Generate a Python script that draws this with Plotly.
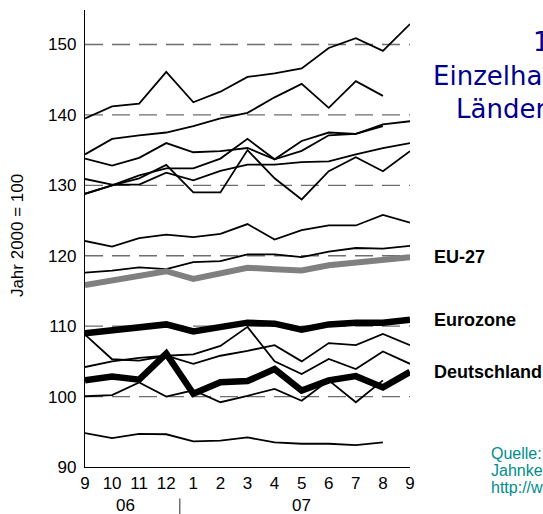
import plotly.graph_objects as go

months = ["9", "10", "11", "12", "1", "2", "3", "4", "5", "6", "7", "8", "9"]
years = ["06", "07"]
y_ticks = [90, 100, 110, 120, 130, 140, 150]

line_a = [139.5, 141.2, 141.6, 146.1, 141.8, 143.3, 145.4, 145.9, 146.6, 149.5, 150.9, 149.1, 152.9]
line_b = [134.4, 136.6, 137.1, 137.5, 138.4, 139.5, 140.3, 142.5, 144.4, 141.0, 144.8, 142.7, None]
line_c = [133.8, 132.8, 133.9, 136.0, 134.7, 134.85, 135.3, 133.7, 134.9, 137.1, 137.3, 138.4, None]
line_d = [128.8, 130.0, 131.4, 132.4, 132.4, 133.8, 136.6, 133.7, 136.3, 137.5, 137.3, 138.65, 139.1]
line_e = [128.8, 130.0, 131.0, 132.9, 129.0, 129.0, 135.0, 131.0, 128.0, 132.0, 134.0, 132.0, 134.85]
line_f = [130.9, 130.1, 130.1, 131.8, 130.7, 132.05, 132.95, 132.95, 133.3, 133.4, 134.4, 135.3, 136.0]
line_g = [122.1, 121.3, 122.5, 123.0, 122.65, 123.1, 124.5, 122.3, 123.65, 124.3, 124.3, 125.8, 124.7]
line_h = [117.6, 117.9, 118.35, 118.1, 119.1, 119.25, 120.2, 120.2, 119.8, 120.6, 121.1, 121.0, 121.4]
line_j = [108.8, 105.3, 105.1, 105.8, 106.0, 107.2, 109.9, 105.0, 103.2, 105.35, 103.9, 106.4, 104.65]
line_k = [104.2, 105.0, 105.5, 105.8, 104.65, 105.8, 106.5, 107.3, 105.0, 107.6, 107.3, 108.9, 107.3]
line_l = [100.05, 100.2, 102.0, 100.0, 100.9, 99.2, 100.1, 101.1, 99.4, 102.3, 99.2, 102.3, None]
line_m = [94.8, 94.1, 94.7, 94.65, 93.65, 93.75, 94.2, 93.5, 93.3, 93.3, 93.1, 93.5, None]

eu27 = [115.85, 116.5, 117.1, 117.8, 116.7, 117.5, 118.3, 118.1, 117.9, 118.65, 119.1, 119.5, 119.8]
eurozone = [109.0, 109.4, 110.0, 110.25, 109.25, 109.9, 110.5, 110.35, 109.5, 110.25, 110.5, 110.5, 110.9]
deutschland = [102.3, 102.85, 102.4, 106.1, 100.4, 102.05, 102.2, 103.9, 100.85, 102.3, 102.9, 101.3, 103.5]

labels = {"EU-27": eu27, "Eurozone": eurozone, "Deutschland": deutschland}

# figure geometry in screen pixels (page margin removed by post_script)
W, H = 543, 514
L, T = 85, 10
PW, PH = 324.6, 456.6
R = W - L - PW
B = H - T - PH


def px(sx):
    return (sx - L) / PW


def py(sy):
    return 1 - (sy - T) / PH


xs = list(range(len(months)))
fig = go.Figure()

for s in [line_a, line_b, line_c, line_d, line_e, line_f, line_g, line_h,
          line_j, line_k, line_l, line_m]:
    fig.add_trace(go.Scatter(x=xs, y=s, mode="lines",
                             line=dict(color="black", width=1.8),
                             hoverinfo="skip", showlegend=False))

fig.add_trace(go.Scatter(x=xs, y=eu27, mode="lines", name="EU-27",
                         line=dict(color="rgb(128,128,128)", width=6),
                         showlegend=False))
fig.add_trace(go.Scatter(x=xs, y=eurozone, mode="lines", name="Eurozone",
                         line=dict(color="black", width=6.5),
                         showlegend=False))
fig.add_trace(go.Scatter(x=xs, y=deutschland, mode="lines", name="Deutschland",
                         line=dict(color="black", width=6.5),
                         showlegend=False))

fig.update_layout(
    width=W, height=H,
    margin=dict(l=L, r=R, t=T, b=B, autoexpand=False),
    paper_bgcolor="white", plot_bgcolor="white",
    font=dict(family="Liberation Sans, Arial, sans-serif", color="black", size=17),
    xaxis=dict(range=[0, 12], tickmode="array", tickvals=xs, ticktext=months,
               showgrid=False, zeroline=False, showline=True, linecolor="black",
               linewidth=1.3, ticks="", tickfont=dict(size=17)),
    yaxis=dict(range=[90, 154.9], tickmode="array", tickvals=y_ticks,
               showgrid=False, zeroline=False, showline=True, linecolor="black",
               linewidth=1.3, ticks="", tickfont=dict(size=17), ticklabelstandoff=4),
)

# dashed grid lines
for v in y_ticks[1:]:
    fig.add_shape(type="line", xref="paper", x0=0, x1=1, yref="y", y0=v, y1=v,
                  line=dict(color="rgb(110,110,110)", width=1.3, dash="18px,9px"),
                  layer="below")

# year labels and divider
fig.add_annotation(x=1.5, y=py(505), xref="x", yref="paper", text=years[0],
                   yanchor="middle", showarrow=False, font=dict(size=17))
fig.add_annotation(x=8, y=py(505), xref="x", yref="paper", text=years[1],
                   yanchor="middle", showarrow=False, font=dict(size=17))
fig.add_shape(type="line", xref="x", x0=3.5, x1=3.5, yref="paper", y0=py(498), y1=py(516),
              line=dict(color="rgb(90,90,90)", width=1.3))

# y-axis title
fig.add_annotation(x=px(17), xref="paper", y=py(235), yref="paper", text="Jahr 2000 = 100",
                   textangle=-90, showarrow=False, xanchor="center", yanchor="middle",
                   font=dict(size=17))

# series labels
for name, ser in labels.items():
    fig.add_annotation(x=px(432), y=ser[-1], xref="paper", yref="y", text="<b>%s</b>" % name,
                       xanchor="left", showarrow=False,
                       font=dict(size=18, color="black"))

# title (clipped at the right edge)
navy = "rgb(0,0,140)"
for txt, xs_, ys_ in [("1. Umsatz im", 530, 42), ("Einzelhandel der EU-", 431, 76),
                      ("Länder 2006/07", 454, 109)]:
    fig.add_annotation(x=px(xs_), y=py(ys_), xref="paper", yref="paper",
                       text=txt, xanchor="left", yanchor="middle", showarrow=False,
                       font=dict(size=26, color=navy, family="DejaVu Sans, sans-serif"))

# source
teal = "rgb(0,140,140)"
for txt, ys_ in [("Quelle: Eurostat", 453), ("Jahnke, Infoportal", 470), ("http://www.jjahnke.net", 487)]:
    fig.add_annotation(x=px(489), y=py(ys_), xref="paper", yref="paper",
                       text=txt, xanchor="left", yanchor="middle", showarrow=False,
                       font=dict(size=16, color=teal))

fig.write_html("out.html", config={"displayModeBar": False},
               post_script="document.body.style.margin='0';document.body.style.overflow='hidden';")
